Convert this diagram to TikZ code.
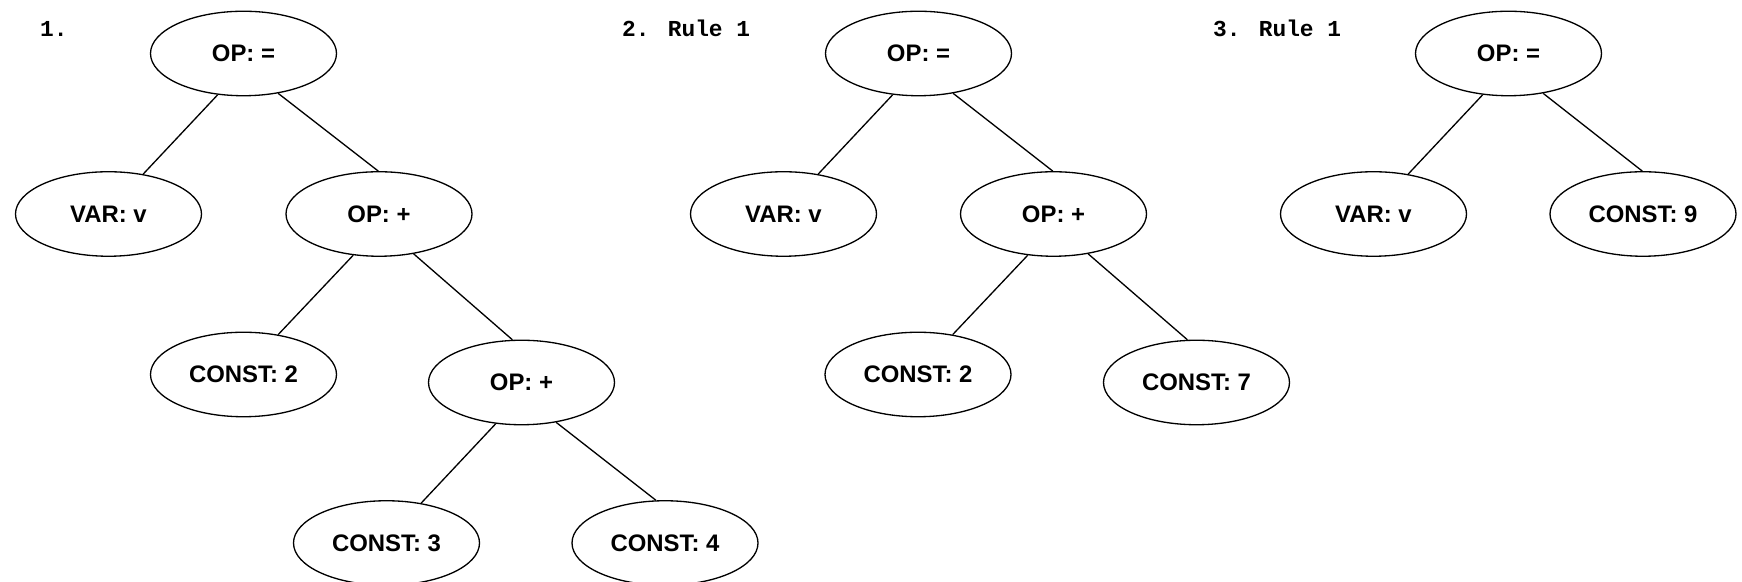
\documentclass[tikz,border=0pt]{standalone}
\usepackage{fontspec}
\setmainfont{Liberation Sans}
\newfontfamily\stepfont{Liberation Mono}
\usetikzlibrary{shapes.geometric}

\begin{document}
\begin{tikzpicture}[line width=0.75pt]
          \tikzstyle{ast}=[draw,shape=ellipse,minimum width=3.72cm,minimum height=1.69cm,inner sep=0pt,font=\fontsize{13.6}{15}\selectfont\bfseries];
          \tikzstyle{caption}=[anchor=base west,inner sep=0pt,font=\stepfont\fontsize{13}{15}\selectfont\bfseries];
          \useasboundingbox (0,0) rectangle (34.84,11.64);
          %\node (name) at (x,y) [ast] {text};
          %\draw (parent.angle)--(child.angle);
          % 1.
          \node[caption] (t1) at (0.79,10.9) {1.};
          \node[ast] (r1) at (4.87,10.57) {OP: =};
          \node[ast] (v1) at (2.17,7.36) {VAR: v};
          \node[ast] (p1) at (7.58,7.36) {OP: +};
          \node[ast] (c1) at (4.87,4.15) {CONST: 2};
          \node[ast] (p2) at (10.43,3.99) {OP: +};
          \node[ast] (c3) at (7.73,0.78) {CONST: 3};
          \node[ast] (c4) at (13.30,0.78) {CONST: 4};
          \draw (r1.-122)--(v1.49);
          \draw (r1.-49)--(p1.91);
          \draw (p1.-122)--(c1.49);
          \draw (p1.-49)--(p2.102);
          \draw (p2.-122)--(c3.49);
          \draw (p2.-49)--(c4.102);
          % 2. Rule 1
          \node[caption] (t2) at (12.43,10.9) {2. Rule 1};
          \node[ast] (r2) at (18.37,10.57) {OP: =};
          \node[ast] (v2) at (15.67,7.36) {VAR: v};
          \node[ast] (p3) at (21.07,7.36) {OP: +};
          \node[ast] (c5) at (18.36,4.15) {CONST: 2};
          \node[ast] (c6) at (23.93,3.99) {CONST: 7};
          \draw (r2.-122)--(v2.49);
          \draw (r2.-49)--(p3.91);
          \draw (p3.-122)--(c5.49);
          \draw (p3.-49)--(c6.102);
          % 3. Rule 1
          \node[caption] (t3) at (24.25,10.9) {3. Rule 1};
          \node[ast] (r3) at (30.17,10.57) {OP: =};
          \node[ast] (v3) at (27.47,7.36) {VAR: v};
          \node[ast] (c7) at (32.86,7.36) {CONST: 9};
          \draw (r3.-122)--(v3.49);
          \draw (r3.-49)--(c7.91);
      \end{tikzpicture}
\end{document}
